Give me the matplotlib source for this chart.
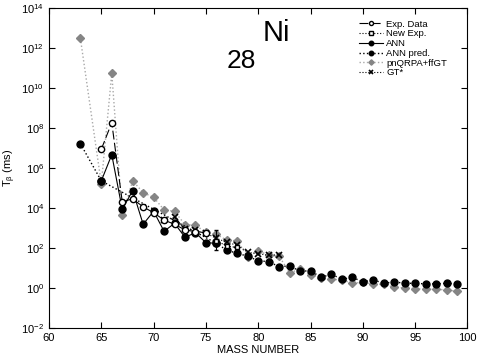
import numpy as np
import matplotlib
matplotlib.use('Agg')
from matplotlib import pyplot as plt
from matplotlib.lines import Line2D

plt.rcParams['font.family'] = ['Liberation Sans', 'DejaVu Sans']
plt.rcParams['mathtext.fontset'] = 'custom'
plt.rcParams['mathtext.rm'] = 'Liberation Sans'
plt.rcParams['mathtext.it'] = 'Liberation Sans:italic'
plt.rcParams['mathtext.default'] = 'regular'

# log10 of half-lives (ms)
exp_mass = [65, 66, 67, 68, 69, 70, 71, 72, 73, 74, 75]
exp_log = [6.95, 8.28, 4.33, 4.47, 4.07, 3.78, 3.41, 3.2, 2.92, 2.83, 2.78]

new_mass = [76, 77, 78]
new_log = [2.38, 2.11, 2.04]
new_err_lo = [0.48, 0.0, 0.0]
new_err_hi = [0.52, 0.0, 0.0]

ann_mass = [65, 66, 67, 68, 69, 70, 71, 72, 73, 74, 75, 76]
ann_log = [5.37, 6.68, 3.95, 4.88, 3.2, 3.85, 2.85, 3.25, 2.55, 2.78, 2.28, 2.25]

pred_mass = [63, 65, 76, 77, 78, 79, 80, 81, 82, 83, 84, 85, 86, 87, 88, 89,
             90, 91, 92, 93, 94, 95, 96, 97, 98, 99]
pred_log = [7.23, 5.37, 2.25, 1.9, 1.75, 1.6, 1.38, 1.33, 1.08, 1.12, 0.85, 0.88,
            0.55, 0.7, 0.45, 0.55, 0.32, 0.42, 0.25, 0.32, 0.25, 0.25, 0.22, 0.22,
            0.25, 0.22]

qrpa_mass = [63, 65, 66, 67, 68, 69, 70, 71, 72, 73, 74, 75, 76, 77, 78, 79, 80,
             81, 82, 83, 84, 85, 86, 87, 88, 89, 90, 91, 92, 93, 94, 95, 96, 97,
             98, 99]
qrpa_log = [12.5, 5.22, 10.75, 3.67, 5.38, 4.78, 4.55, 3.92, 3.85, 3.18, 3.15,
            2.8, 2.7, 2.4, 2.38, 1.58, 1.88, 1.65, 1.6, 0.78, 0.95, 0.68, 0.5,
            0.45, 0.42, 0.25, 0.3, 0.22, 0.2, 0.05, 0.02, -0.02, -0.05, -0.05,
            -0.08, -0.15]

gt_mass = [71, 72, 73, 74, 75, 76, 77, 78, 79, 80, 81, 82]
gt_log = [3.42, 3.55, 2.95, 2.9, 2.75, 2.5, 2.3, 2.15, 1.8, 1.73, 1.65, 1.68]

def tv(a):
    return 10 ** np.array(a)

fig = plt.figure(figsize=(4.78, 3.59), dpi=100)
ax = fig.add_axes([0.1025, 0.0855, 0.8755, 0.8915])

gray = '#858585'
ax.plot(qrpa_mass, tv(qrpa_log), ':', color='#a8a8a8', lw=1.0, marker='D',
        ms=4.2, mfc=gray, mec=gray, label='pnQRPA+ffGT', zorder=2)
ax.plot(pred_mass, tv(pred_log), ':', color='black', lw=1.0, marker='o',
        ms=5, mfc='black', mec='black', label='ANN pred.', zorder=3)
ax.plot(ann_mass, tv(ann_log), '-', color='black', lw=0.8, marker='o',
        ms=5, mfc='black', mec='black', label='ANN', zorder=4)
ax.plot(gt_mass, tv(gt_log), ':', color='black', lw=0.8, marker='x',
        ms=4.5, mew=1.2, label='GT*', zorder=5)
ax.plot(exp_mass, tv(exp_log), '--', dashes=(8, 3), color='black', lw=0.8,
        marker='o', ms=4.5, mfc='white', mec='black', label='Exp. Data', zorder=6)
new_val = tv(new_log)
yerr = [new_val - tv(np.array(new_log) - np.array(new_err_lo)),
        tv(np.array(new_log) + np.array(new_err_hi)) - new_val]
ax.errorbar(new_mass, new_val, yerr=yerr, fmt='none', ecolor='black',
            elinewidth=0.8, capsize=1.5, zorder=7)
ax.plot(new_mass, new_val, ':', color='black', lw=0.8, marker='s', ms=3.5,
        mfc='white', mec='black', label='New Exp.', zorder=7)

ax.set_yscale('log')
ax.set_xlim(60, 100)
ax.set_ylim(1e-2, 1e14)
ax.set_xticks(np.arange(60, 101, 5))
ax.set_yticks([10.0 ** k for k in range(-2, 15, 2)])
ax.yaxis.set_minor_locator(matplotlib.ticker.NullLocator())
ax.tick_params(direction='in', top=True, right=True, labelsize=8, length=4, width=0.8)
ax.set_xlabel('MASS NUMBER', fontsize=8, labelpad=1)
ax.set_ylabel(r'T$_\beta$ (ms)', fontsize=8, labelpad=2)

# element label: subscript 28 then Ni
ax.text(77.0, tv(11.0), '28', fontsize=19, ha='left', va='baseline')
ax.text(80.4, tv(12.35), 'Ni', fontsize=21, ha='left', va='baseline')

h, l = ax.get_legend_handles_labels()
order = ['Exp. Data', 'New Exp.', 'ANN', 'ANN pred.', 'pnQRPA+ffGT', 'GT*']
hh = [h[l.index(o)] for o in order]
ax.legend(hh, order, loc='upper right', frameon=False, fontsize=6.8,
          handlelength=2.6, handletextpad=0.3, labelspacing=0.08,
          markerscale=0.65, bbox_to_anchor=(0.967, 0.985), borderaxespad=0.3)

fig.savefig('out.png', dpi=100)
